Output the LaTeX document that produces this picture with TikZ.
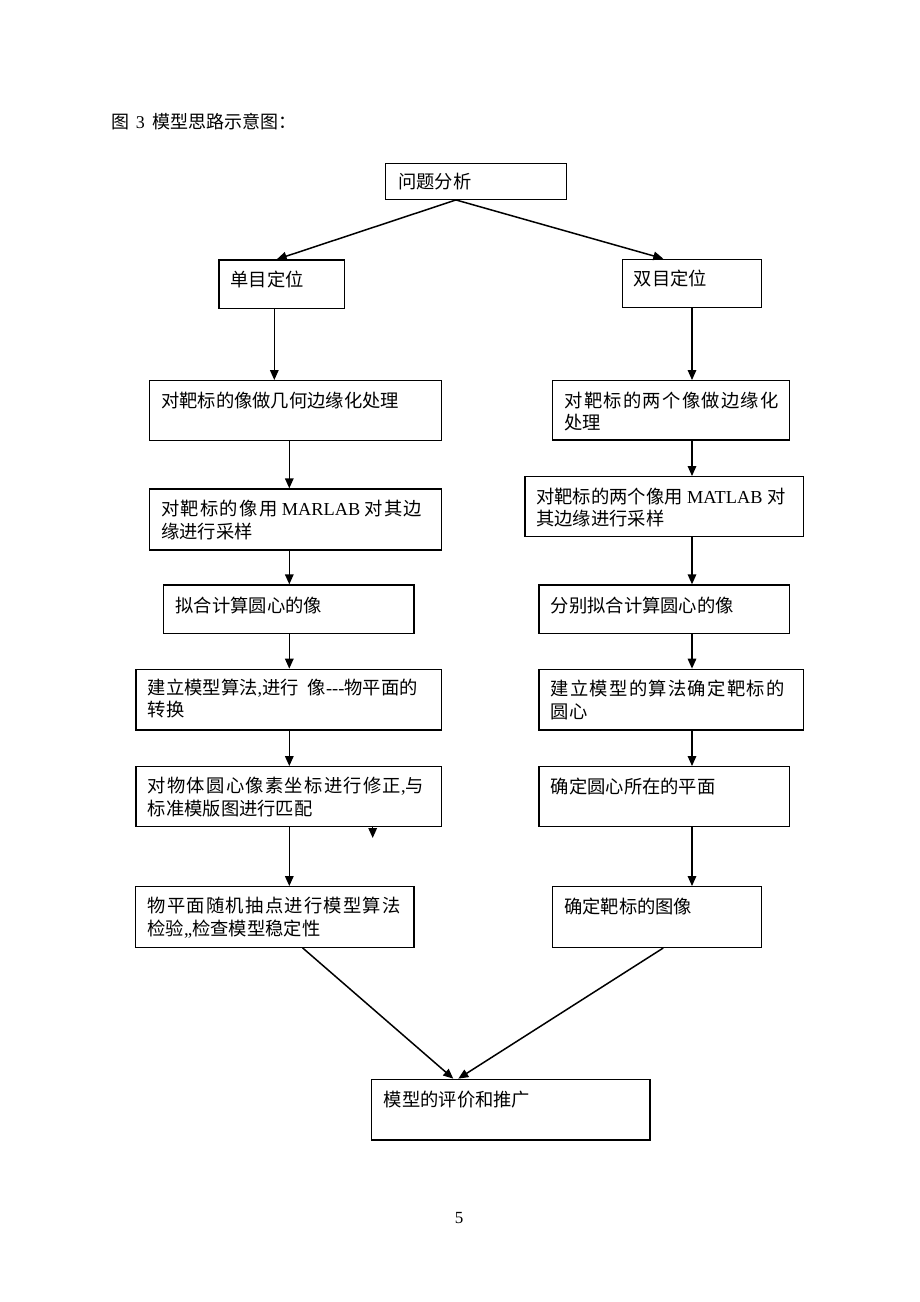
\documentclass[tikz,border=0pt]{standalone}
\usepackage{fontspec}
\setmainfont{Liberation Serif}
\newfontfamily\C{Noto Sans CJK SC}
\newfontfamily\Cs[LetterSpace=7]{Noto Sans CJK SC}
\usetikzlibrary{arrows.meta,fit}
\newcommand\bx[5]{%
  \coordinate (#1-a) at (#2,#3);
  \coordinate (#1-b) at (#4,#5);
  \node[box, fit=(#1-a)(#1-b)] (#1) {};}
\begin{document}
\begin{tikzpicture}[x=1pt,y=-1pt,
  box/.style={draw=black, line width=1.3pt, inner sep=0pt},
  txt/.style={anchor=north west, inner sep=0pt, align=left,
    font=\fontsize{18.3}{22.5}\selectfont,
    execute at begin node={\rule{0pt}{16pt}}},
  arr/.style={-{Triangle[length=10pt,width=8.5pt]}, line width=1.5pt}]
\fill[white] (0,0) rectangle (920,1302);
\useasboundingbox (0,0) rectangle (920,1302);

% title and page number
\node[anchor=base west, inner sep=0pt, font=\fontsize{18}{22}\selectfont] (title) at (111.7,128.7) {{\C 图}\hspace{6pt}3\hspace{8pt}{\C 模型思路示意图：}};
\node[anchor=base, inner sep=0pt, font=\fontsize{17}{20}\selectfont] (pg) at (459,1223) {5};

% boxes
\bx{Q}{385.7}{163.3}{566.7}{199.3}
\bx{A}{219}{260}{344.3}{308.3}
\bx{B}{622.3}{259.3}{761.3}{307.7}
\bx{L1}{149.3}{380.7}{441.7}{440.7}
\bx{R1}{552.7}{380.7}{789.3}{440}
\bx{L2}{149.3}{489}{441.7}{550}
\bx{R2}{525}{476.7}{803.3}{536.7}
\bx{L3}{163.3}{585}{414}{633.3}
\bx{R3}{539}{585}{789.3}{633.3}
\bx{L4}{136}{669.3}{441.7}{730}
\bx{R4}{539}{669.3}{803.3}{730}
\bx{L5}{136}{766.7}{441.7}{826.7}
\bx{R5}{539}{766.7}{789.3}{826.7}
\bx{L6}{135.7}{886.7}{414}{947.3}
\bx{R6}{552.3}{886.7}{761.7}{947.3}
\bx{E}{371.7}{1079.3}{650}{1140}

% box texts
\node[txt] (Qt) at ([xshift=13pt,yshift=-10pt]Q.north west) {{\C 问题分析}};
\node[txt] (At) at ([xshift=12pt,yshift=-11pt]A.north west) {{\C 单目定位}};
\node[txt] (Bt) at ([xshift=12pt,yshift=-11pt]B.north west) {{\C 双目定位}};
\node[txt] (L1t) at ([xshift=12.3pt,yshift=-11.5pt]L1.north west) {{\C 对靶标的像做几何边缘化处理}};
\node[txt] (R1t) at ([xshift=12.3pt,yshift=-11.5pt]R1.north west) {{\Cs 对靶标的两个像做边缘化}\\{\C 处理}};
\node[txt] (L2t) at ([xshift=12.3pt,yshift=-11.5pt]L2.north west) {{\Cs 对靶标的像用}\ MARLAB\ {\Cs 对其边}\\{\C 缘进行采样}};
\node[txt] (R2t) at ([xshift=11.7pt,yshift=-11.5pt]R2.north west) {{\C 对靶标的两个像用} MATLAB {\C 对}\\{\C 其边缘进行采样}};
\node[txt] (L3t) at ([xshift=12.7pt,yshift=-11.5pt]L3.north west) {{\C 拟合计算圆心的像}};
\node[txt] (R3t) at ([xshift=12.3pt,yshift=-11.5pt]R3.north west) {{\C 分别拟合计算圆心的像}};
\node[txt] (L4t) at ([xshift=12.3pt,yshift=-10pt]L4.north west) {{\C 建立模型算法},{\C 进行}\hspace{9pt}{\C 像}-{}-{}-{\C 物平面的}\\{\C 转换}};
\node[txt] (R4t) at ([xshift=12.3pt,yshift=-11.5pt]R4.north west) {{\Cs 建立模型的算法确定靶标的}\\{\C 圆心}};
\node[txt] (L5t) at ([xshift=12.3pt,yshift=-11pt]L5.north west) {{\Cs 对物体圆心像素坐标进行修正},{\C 与}\\{\C 标准模版图进行匹配}};
\node[txt] (R5t) at ([xshift=12.3pt,yshift=-11pt]R5.north west) {{\C 确定圆心所在的平面}};
\node[txt] (L6t) at ([xshift=12.3pt,yshift=-11pt]L6.north west) {{\Cs 物平面随机抽点进行模型算法}\\{\C 检验},,{\C 检查模型稳定性}};
\node[txt] (R6t) at ([xshift=12.3pt,yshift=-11pt]R6.north west) {{\C 确定靶标的图像}};
\node[txt] (Et) at ([xshift=12.6pt,yshift=-12pt]E.north west) {{\C 模型的评价和推广}};

% helper columns
\coordinate (qx) at (456,0);
\coordinate (ax) at (276.7,0);
\coordinate (bx) at (663.3,0);
\coordinate (a2x) at (274.3,0);
\coordinate (lx) at (289.3,0);
\coordinate (rx) at (692,0);
\coordinate (l6x) at (302.7,0);
\coordinate (r6x) at (663.3,0);
\coordinate (elx) at (453.3,0);
\coordinate (erx) at (458.3,0);
\coordinate (stray) at (372.7,838);

% connectors
\draw[arr] (Q.south -| qx) -- (A.north -| ax);
\draw[arr] (Q.south -| qx) -- (B.north -| bx);
\draw[arr] (A.south -| a2x) -- (L1.north -| a2x);
\draw[arr] (B.south -| rx) -- (R1.north -| rx);
\draw[arr] (L1.south -| lx) -- (L2.north -| lx);
\draw[arr] (L2.south -| lx) -- (L3.north -| lx);
\draw[arr] (L3.south -| lx) -- (L4.north -| lx);
\draw[arr] (L4.south -| lx) -- (L5.north -| lx);
\draw[arr] (L5.south -| lx) -- (L6.north -| lx);
\draw[arr] (R1.south -| rx) -- (R2.north -| rx);
\draw[arr] (R2.south -| rx) -- (R3.north -| rx);
\draw[arr] (R3.south -| rx) -- (R4.north -| rx);
\draw[arr] (R4.south -| rx) -- (R5.north -| rx);
\draw[arr] (R5.south -| rx) -- (R6.north -| rx);
\draw[arr] (L5.south -| stray) -- (stray);
\draw[arr] (L6.south -| l6x) -- (E.north -| elx);
\draw[arr] (R6.south -| r6x) -- (E.north -| erx);
\end{tikzpicture}
\end{document}
